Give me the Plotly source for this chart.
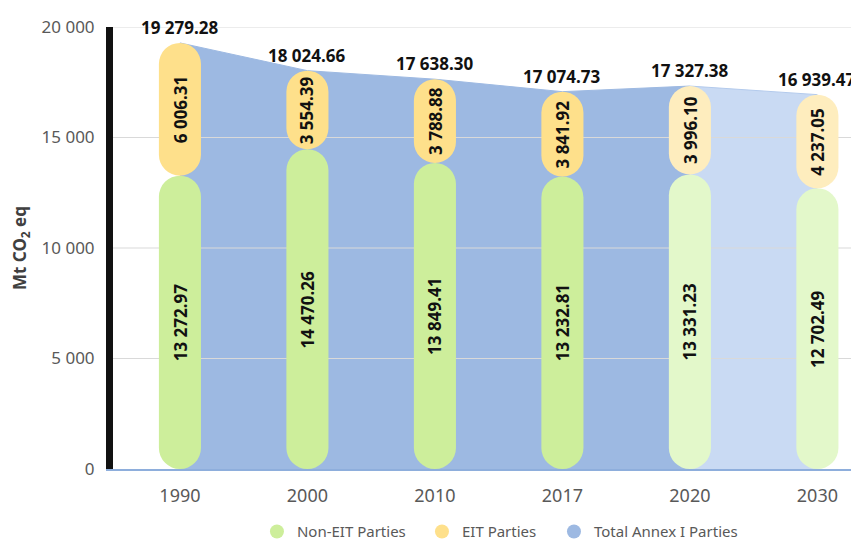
import plotly.graph_objects as go

# ---- data ----
years = ["1990", "2000", "2010", "2017", "2020", "2030"]
non_eit = [13272.97, 14470.26, 13849.41, 13232.81, 13331.23, 12702.49]
eit = [6006.31, 3554.39, 3788.88, 3841.92, 3996.10, 4237.05]
total = [19279.28, 18024.66, 17638.30, 17074.73, 17327.38, 16939.47]
projected = [False, False, False, False, True, True]
y_ticks = [0, 5000, 10000, 15000, 20000]
y_tick_labels = ["0", "5 000", "10 000", "15 000", "20 000"]
series_names = ["Non-EIT Parties", "EIT Parties", "Total Annex I Parties"]

# ---- style ----
GREEN, GREEN_L = "#CDEE9B", "#E3F8CA"
YELLOW, YELLOW_L = "#FEE08B", "#FEEDBE"
BLUE, BLUE_L = "#9DB9E2", "#C9DAF3"
GRID = "#D9D9D9"
TICK = "#595959"
FONT = "Noto Sans"
# page body has an 8px margin, so the figure is offset accordingly
W, H = 851, 542
M = dict(l=105, r=4, t=19, b=81, autoexpand=False)
XR = [-0.525, 5.295]
YR = [0, 20000]
BAR_W = 0.33

x = list(range(len(years)))
fmt = lambda v: f"{v:,.2f}".replace(",", " ")

fig = go.Figure()

# total area (history and projection)
n_hist = projected.index(True)
fig.add_trace(go.Scatter(x=x[:n_hist + 1], y=total[:n_hist + 1], mode="lines",
                         fill="tozeroy", fillcolor=BLUE, line=dict(color=BLUE, width=1),
                         hoverinfo="skip", showlegend=False))
fig.add_trace(go.Scatter(x=x[n_hist:], y=total[n_hist:], mode="lines",
                         fill="tozeroy", fillcolor=BLUE_L, line=dict(color="#B3CAEC", width=1),
                         hoverinfo="skip", showlegend=False))

# gridlines over the area (below bars)
for t in y_ticks[1:]:
    fig.add_trace(go.Scatter(x=XR, y=[t, t], mode="lines", line=dict(color=GRID, width=1),
                             hoverinfo="skip", showlegend=False))

# pill-shaped bars (on an overlaid axis so they sit above the area)
def pill(bottoms, heights, colors):
    fig.add_trace(go.Bar(x=x, y=heights, base=bottoms, width=BAR_W,
                         marker=dict(color=colors, line=dict(width=0), cornerradius="50%"),
                         yaxis="y2", hoverinfo="skip", showlegend=False))

green_cols = [GREEN_L if p else GREEN for p in projected]
yellow_cols = [YELLOW_L if p else YELLOW for p in projected]
pill([0] * len(x), non_eit, green_cols)
pill(non_eit, eit, yellow_cols)

# legend entries (one legend each, to match spacing)
legend_ids = ["legend", "legend2", "legend3"]
legend_x = [0.194, 0.4164, 0.5943]
for name, col, lid in zip(series_names, [GREEN, YELLOW, BLUE], legend_ids):
    fig.add_trace(go.Scatter(x=[None], y=[None], mode="markers", name=name, legend=lid,
                             marker=dict(size=14, color=col)))

# labels
annotations = []
for i in x:
    annotations.append(dict(x=i, y=total[i], xref="x", yref="y", text=f"<b>{fmt(total[i])}</b>",
                            showarrow=False, yanchor="bottom", yshift=2,
                            font=dict(family=FONT, size=17, color="#111111")))
    annotations.append(dict(x=i, y=non_eit[i] / 2, xref="x", yref="y", text=f"<b>{fmt(non_eit[i])}</b>",
                            showarrow=False, textangle=-90,
                            font=dict(family=FONT, size=17, color="#111111")))
    annotations.append(dict(x=i, y=non_eit[i] + eit[i] / 2, xref="x", yref="y", text=f"<b>{fmt(eit[i])}</b>",
                            showarrow=False, textangle=-90,
                            font=dict(family=FONT, size=17, color="#111111")))

leg_common = dict(orientation="h", xanchor="left", y=-0.142, yanchor="middle",
                  font=dict(family=FONT, size=15, color=TICK), bgcolor="rgba(0,0,0,0)")

fig.update_layout(
    width=W, height=H,
    margin=M,
    paper_bgcolor="white", plot_bgcolor="white",
    font=dict(family=FONT, color=TICK),
    barmode="overlay",
    showlegend=True,
    legend=dict(x=legend_x[0], **leg_common),
    legend2=dict(x=legend_x[1], **leg_common),
    legend3=dict(x=legend_x[2], **leg_common),
    xaxis=dict(range=XR, tickmode="array", tickvals=x, ticktext=years, automargin=False,
               showgrid=False, zeroline=False, showline=True, linecolor="#8EAEDC", linewidth=2,
               tickfont=dict(family=FONT, size=18, color=TICK), ticks="", ticklabelstandoff=9),
    yaxis=dict(range=YR, tickmode="array", tickvals=y_ticks, ticktext=y_tick_labels, automargin=False,
               showgrid=False, zeroline=False, showline=True, linecolor="#111111", linewidth=7,
               tickfont=dict(family=FONT, size=17, color=TICK), ticklabelstandoff=8,
               title=dict(text="<b>Mt CO<sub>2</sub> eq</b>", font=dict(family=FONT, size=17, color="#404040"),
                          standoff=16)),
    yaxis2=dict(range=YR, overlaying="y", visible=False, automargin=False),
    annotations=annotations,
)

fig.write_html("out.html")
